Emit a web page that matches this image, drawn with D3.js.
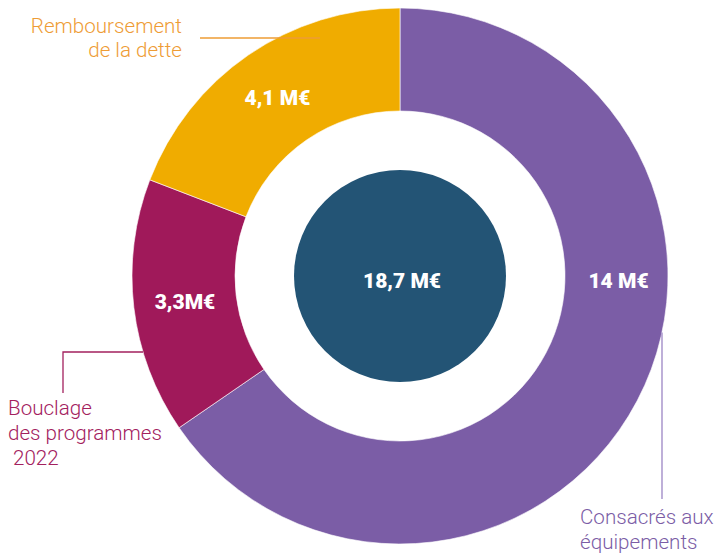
<!DOCTYPE html>
<html>
<head>
<meta charset="utf-8">
<script src="https://cdn.jsdelivr.net/npm/d3@7"></script>
<style>
  html, body { margin: 0; padding: 0; background: #fff; }
  svg { display: block; }
  .cat-label { font-family: Roboto, sans-serif; font-weight: 300; font-size: 20.6px; }
  .value-label { font-family: Roboto, sans-serif; font-weight: 900; font-size: 21px; fill: #fff; }
</style>
</head>
<body>
<div id="chart"></div>
<script>
const WIDTH = 715;
const HEIGHT = 557;

// slices, clockwise from the top
const categories = ["equipements", "bouclage", "dette"];
const values = [14, 3.3, 4.1];
const valueLabels = ["14 M€", "3,3M€", "4,1 M€"];
const labelLines = [["Consacrés aux", "équipements"], ["Bouclage", "des programmes", " 2022"], ["Remboursement", "de la dette"]];
const totalLabel = "18,7 M€";

const COLORS = { equipements: "#7b5da6", bouclage: "#a0195a", dette: "#f0ac00", total: "#235475" };
const TEXT_COLORS = { equipements: "#7b5da6", bouclage: "#a3215e", dette: "#ee9c35" };

const cx = 400, cy = 276;
const outerR = 268, innerR = 165, coreR = 106;

const svg = d3.select("#chart").append("svg").attr("width", WIDTH).attr("height", HEIGHT);
const g = svg.append("g").attr("transform", `translate(${cx},${cy})`);

const pie = d3.pie().sort(null).value((d) => d.value);
const arcs = pie(categories.map((key, i) => ({ key, value: values[i], label: valueLabels[i] })));
const arc = d3.arc().innerRadius(innerR).outerRadius(outerR);
const midR = (innerR + outerR) / 2;

g.selectAll("path.slice")
  .data(arcs)
  .join("path")
  .attr("class", "slice")
  .attr("d", arc)
  .attr("fill", (d) => COLORS[d.data.key])
  .attr("stroke", "#fff")
  .attr("stroke-width", 0.6);

g.append("circle").attr("r", coreR).attr("fill", COLORS.total);

// value labels: centroid, except the big slice which sits at 3 o'clock
g.selectAll("text.value-label")
  .data(arcs)
  .join("text")
  .attr("class", "value-label")
  .attr("text-anchor", "middle")
  .attr("dy", "0.36em")
  .attr("transform", (d) => {
    if (d.data.key === "equipements") return `translate(${midR + 2},4)`;
    const [x, y] = d3.arc().innerRadius(midR).outerRadius(midR).centroid(d);
    return `translate(${x},${y})`;
  })
  .text((d) => d.data.label);

g.append("text")
  .attr("class", "value-label")
  .attr("text-anchor", "middle")
  .attr("x", 2)
  .attr("y", 4)
  .attr("dy", "0.36em")
  .text(totalLabel);

// leader lines and category labels
const edgeY = (x) => Math.sqrt(outerR * outerR - x * x);
const edgeX = (y) => Math.sqrt(outerR * outerR - y * y);

const ann = svg.append("g");

// remboursement
ann.append("line")
  .attr("x1", 200).attr("x2", 320).attr("y1", 38).attr("y2", 38)
  .attr("stroke", TEXT_COLORS.dette).attr("stroke-width", 1.3);
ann.append("text")
  .attr("class", "cat-label")
  .attr("fill", TEXT_COLORS.dette)
  .attr("text-anchor", "end")
  .selectAll("tspan")
  .data(labelLines[2])
  .join("tspan")
  .attr("x", 182)
  .attr("y", (d, i) => 33 + i * 24)
  .text((d) => d);

// bouclage
const bY = 352;
ann.append("path")
  .attr("d", `M${cx - edgeX(bY - cy)},${bY}H63V393`)
  .attr("fill", "none")
  .attr("stroke", TEXT_COLORS.bouclage).attr("stroke-width", 1.3);
ann.append("text")
  .attr("class", "cat-label")
  .attr("fill", TEXT_COLORS.bouclage)
  .selectAll("tspan")
  .data(labelLines[1])
  .join("tspan")
  .attr("x", 8)
  .attr("y", (d, i) => 415 + i * 25)
  .text((d) => d);

// equipements
const eX = 662;
ann.append("line")
  .attr("x1", eX).attr("x2", eX).attr("y1", cy + edgeY(eX - cx)).attr("y2", 499)
  .attr("stroke", "#9b85c4").attr("stroke-width", 1.3);
ann.append("text")
  .attr("class", "cat-label")
  .attr("fill", TEXT_COLORS.equipements)
  .selectAll("tspan")
  .data(labelLines[0])
  .join("tspan")
  .attr("x", 580)
  .attr("y", (d, i) => 524 + i * 25)
  .text((d) => d);
</script>
</body>
</html>
